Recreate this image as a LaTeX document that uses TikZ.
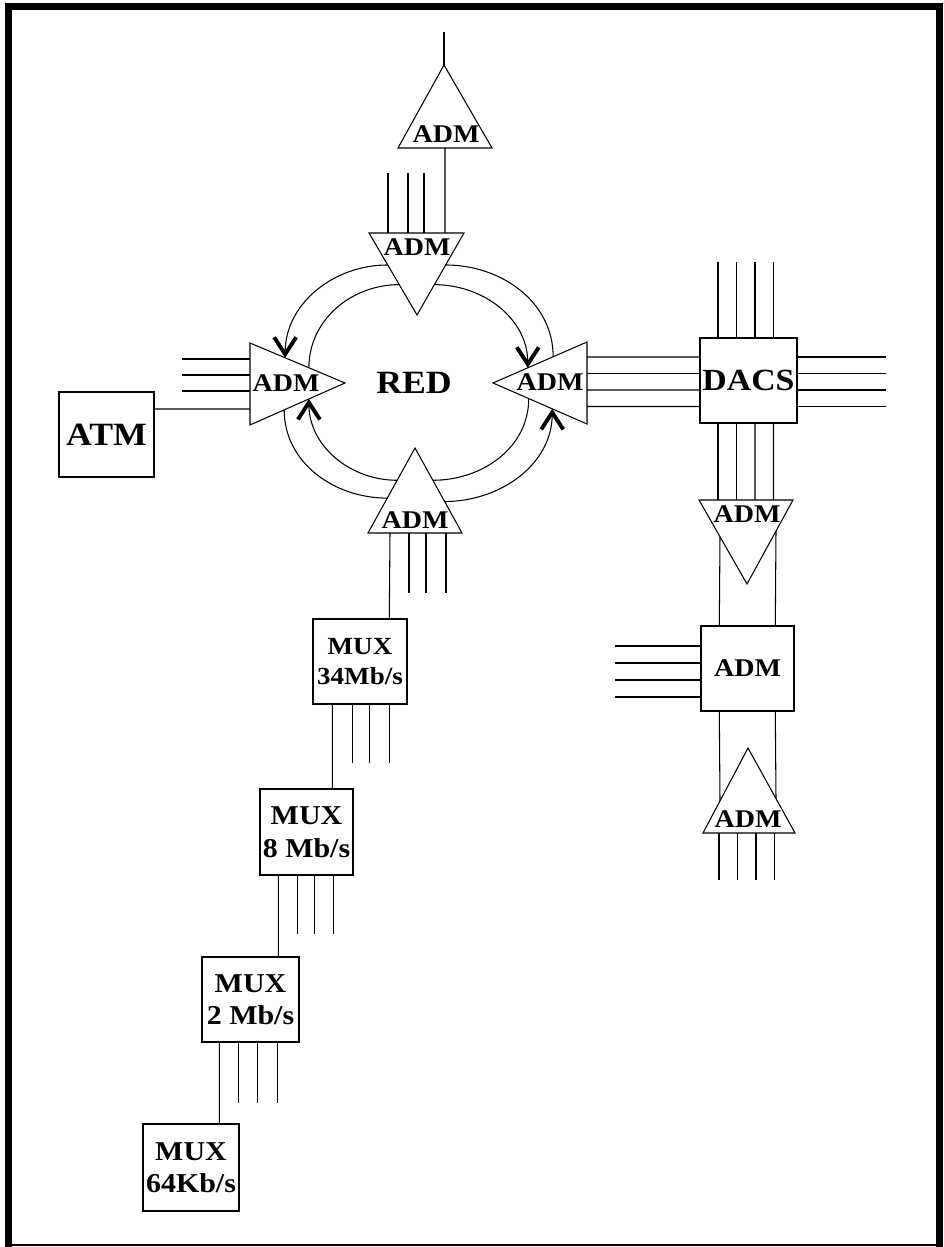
\documentclass[tikz,border=0pt]{standalone}
\usepackage{fontspec}
\setmainfont{Liberation Serif}[FakeStretch=1.1]
\usetikzlibrary{arrows.meta,calc}

\begin{document}
\begin{tikzpicture}[
  wire/.style={line width=0.6pt},
  ringarc/.style={line width=0.6pt},
  flowtip/.style={-{Straight Barb[length=0.34cm,width=0.44cm,line width=2.2pt]}},
  equip/.style={draw, line width=0.8pt, inner sep=0pt, align=center},
  admtext/.style={font=\bfseries\fontsize{14.5}{16}\selectfont, inner sep=0pt},
  bigtext/.style={font=\bfseries\fontsize{18.5}{22}\selectfont, inner sep=0pt},
  muxtext/.style={font=\bfseries\fontsize{15.5}{18.5}\selectfont}
]
\useasboundingbox (0,0) rectangle (18.880,24.940);
\begin{scope}[shift={(0.000,24.940)}]
\draw[line width=3.8pt] (0.170,-24.940) -- (0.170,-0.130) -- (18.790,-0.130) -- (18.790,-24.940);
\draw[line width=1.4pt] (0.170,-24.900) -- (18.790,-24.900);

\node[equip, bigtext, minimum width=1.900cm, minimum height=1.700cm] (atm) at (2.130,-8.690) {ATM};
\node[equip, font=\bfseries\fontsize{17.5}{21}\selectfont, minimum width=1.940cm, minimum height=1.700cm] (dacs) at (14.970,-7.610) {DACS};
\node[equip, admtext, minimum width=1.860cm, minimum height=1.700cm] (admbox) at (14.950,-13.370) {ADM};
\node[equip, muxtext, font=\bfseries\fontsize{14}{17}\selectfont, minimum width=1.880cm, minimum height=1.700cm] (mux34) at (7.200,-13.230) {MUX\\34Mb/s};
\node[equip, muxtext, minimum width=1.860cm, minimum height=1.720cm] (mux8) at (6.130,-16.640) {MUX\\8 Mb/s};
\node[equip, muxtext, minimum width=1.940cm, minimum height=1.700cm] (mux2) at (5.010,-19.990) {MUX\\2 Mb/s};
\node[equip, muxtext, minimum width=1.920cm, minimum height=1.740cm] (mux64) at (3.820,-23.350) {MUX\\64Kb/s};

\draw[wire] (8.880,-1.300) coordinate (admtop-apex) -- (7.960,-2.960) coordinate (admtop-bl) -- (9.840,-2.960) coordinate (admtop-br) -- cycle;
\draw[wire] (7.380,-4.660) coordinate (admnorth-tl) -- (9.280,-4.660) coordinate (admnorth-tr) -- (8.340,-6.300) coordinate (admnorth-apex) -- cycle;
\draw[wire] (5.000,-6.860) coordinate (admwest-bt) -- (6.900,-7.660) coordinate (admwest-apex) -- (5.000,-8.500) coordinate (admwest-bb) -- cycle;
\draw[wire] (11.740,-6.840) coordinate (admeast-bt) -- (9.860,-7.660) coordinate (admeast-apex) -- (11.740,-8.480) coordinate (admeast-bb) -- cycle;
\draw[wire] (8.300,-8.960) coordinate (admsouth-apex) -- (7.360,-10.660) coordinate (admsouth-bl) -- (9.240,-10.660) coordinate (admsouth-br) -- cycle;
\draw[wire] (13.980,-10.000) coordinate (admdrop-tl) -- (15.860,-10.000) coordinate (admdrop-tr) -- (14.940,-11.680) coordinate (admdrop-apex) -- cycle;
\draw[wire] (14.960,-14.960) coordinate (admlow-apex) -- (14.060,-16.660) coordinate (admlow-bl) -- (15.900,-16.660) coordinate (admlow-br) -- cycle;

\node[admtext] (admtop-lbl) at (8.920,-2.680) {ADM};
\node[admtext] (admnorth-lbl) at (8.340,-4.940) {ADM};
\node[admtext] (admwest-lbl) at (5.720,-7.660) {ADM};
\node[admtext] (admeast-lbl) at (11.000,-7.640) {ADM};
\node[admtext] (admsouth-lbl) at (8.300,-10.400) {ADM};
\node[admtext] (admdrop-lbl) at (14.940,-10.280) {ADM};
\node[admtext] (admlow-lbl) at (14.960,-16.380) {ADM};
\node[bigtext] (red) at (8.280,-7.660) {RED};

\draw[wire] (admtop-apex) -- ++(0,0.660);
\draw[wire] ([xshift=0.940cm]admtop-bl) -- ([xshift=1.520cm]admnorth-tl);
\draw[wire] ([xshift=0.380cm]admnorth-tl) -- ++(0,1.200);
\draw[wire] ([xshift=0.780cm]admnorth-tl) -- ++(0,1.200);
\draw[wire] ([xshift=1.100cm]admnorth-tl) -- ++(0,1.200);

\draw[wire] ([yshift=-0.320cm]admwest-bt) -- ++(-1.360,0);
\draw[wire] ([yshift=-0.640cm]admwest-bt) -- ++(-1.360,0);
\draw[wire] ([yshift=-0.960cm]admwest-bt) -- ++(-1.360,0);
\draw[wire] ([yshift=0.510cm]atm.east) -- ([yshift=-1.320cm]admwest-bt);

\draw[wire] ([yshift=-0.300cm]admeast-bt) -- ([yshift=0.470cm]dacs.west);
\draw[wire] ([yshift=-0.630cm]admeast-bt) -- ([yshift=0.140cm]dacs.west);
\draw[wire] ([yshift=-0.960cm]admeast-bt) -- ([yshift=-0.190cm]dacs.west);
\draw[wire] ([yshift=-1.290cm]admeast-bt) -- ([yshift=-0.520cm]dacs.west);
\draw[wire] ([yshift=0.470cm]dacs.east) -- ++(1.760,0);
\draw[wire] ([yshift=0.140cm]dacs.east) -- ++(1.760,0);
\draw[wire] ([yshift=-0.190cm]dacs.east) -- ++(1.760,0);
\draw[wire] ([yshift=-0.520cm]dacs.east) -- ++(1.760,0);
\draw[wire] ([xshift=-0.610cm]dacs.north) -- ++(0,1.500);
\draw[wire] ([xshift=-0.240cm]dacs.north) -- ++(0,1.500);
\draw[wire] ([xshift=0.130cm]dacs.north) -- ++(0,1.500);
\draw[wire] ([xshift=0.500cm]dacs.north) -- ++(0,1.500);
\draw[wire] ([xshift=-0.610cm]dacs.south) -- ([xshift=0.380cm]admdrop-tl);
\draw[wire] ([xshift=-0.240cm]dacs.south) -- ([xshift=0.750cm]admdrop-tl);
\draw[wire] ([xshift=0.130cm]dacs.south) -- ([xshift=1.120cm]admdrop-tl);
\draw[wire] ([xshift=0.500cm]dacs.south) -- ([xshift=1.490cm]admdrop-tl);

\draw[wire] ($(admdrop-tl)!0.4375!(admdrop-apex)$) -- ([xshift=0.380cm]admbox.north west);
\draw[wire] ($(admdrop-tr)!0.3696!(admdrop-apex)$) -- ([xshift=1.500cm]admbox.north west);
\draw[wire] ([yshift=0.450cm]admbox.west) -- ++(-1.700,0);
\draw[wire] ([yshift=0.110cm]admbox.west) -- ++(-1.700,0);
\draw[wire] ([yshift=-0.230cm]admbox.west) -- ++(-1.700,0);
\draw[wire] ([yshift=-0.570cm]admbox.west) -- ++(-1.700,0);
\draw[wire] ([xshift=0.380cm]admbox.south west) -- ($(admlow-bl)!0.3778!(admlow-apex)$);
\draw[wire] ([xshift=1.500cm]admbox.south west) -- ($(admlow-br)!0.4043!(admlow-apex)$);
\draw[wire] ([xshift=0.320cm]admlow-bl) -- ++(0,-0.940);
\draw[wire] ([xshift=0.690cm]admlow-bl) -- ++(0,-0.940);
\draw[wire] ([xshift=1.060cm]admlow-bl) -- ++(0,-0.940);
\draw[wire] ([xshift=1.430cm]admlow-bl) -- ++(0,-0.940);

\draw[wire] ([xshift=0.440cm]admsouth-bl) -- ([xshift=1.540cm]mux34.north west);
\draw[wire] ([xshift=0.820cm]admsouth-bl) -- ++(0,-1.200);
\draw[wire] ([xshift=1.160cm]admsouth-bl) -- ++(0,-1.200);
\draw[wire] ([xshift=1.560cm]admsouth-bl) -- ++(0,-1.200);

\draw[wire] ([xshift=0.400cm]mux34.south west) -- ([xshift=1.460cm]mux8.north west);
\draw[wire] ([xshift=0.800cm]mux34.south west) -- ++(0,-1.160);
\draw[wire] ([xshift=1.140cm]mux34.south west) -- ++(0,-1.160);
\draw[wire] ([xshift=1.540cm]mux34.south west) -- ++(0,-1.160);

\draw[wire] ([xshift=0.380cm]mux8.south west) -- ([xshift=1.540cm]mux2.north west);
\draw[wire] ([xshift=0.760cm]mux8.south west) -- ++(0,-1.160);
\draw[wire] ([xshift=1.100cm]mux8.south west) -- ++(0,-1.160);
\draw[wire] ([xshift=1.480cm]mux8.south west) -- ++(0,-1.160);

\draw[wire] ([xshift=0.360cm]mux2.south west) -- ([xshift=1.540cm]mux64.north west);
\draw[wire] ([xshift=0.740cm]mux2.south west) -- ++(0,-1.200);
\draw[wire] ([xshift=1.120cm]mux2.south west) -- ++(0,-1.200);
\draw[wire] ([xshift=1.520cm]mux2.south west) -- ++(0,-1.200);

\draw[ringarc, flowtip] ($(admnorth-tl)!0.39!(admnorth-apex)$) to[out=180,in=90] ($(admwest-bt)!0.37!(admwest-apex)$);
\draw[ringarc] ($(admnorth-tl)!0.63!(admnorth-apex)$) to[out=180,in=90] ($(admwest-bt)!0.62!(admwest-apex)$);
\draw[ringarc] ($(admnorth-tr)!0.39!(admnorth-apex)$) to[out=0,in=90] ($(admeast-bt)!0.36!(admeast-apex)$);
\draw[ringarc, flowtip] ($(admnorth-tr)!0.63!(admnorth-apex)$) to[out=0,in=90] ($(admeast-bt)!0.63!(admeast-apex)$);
\draw[ringarc] ($(admwest-bb)!0.36!(admwest-apex)$) to[out=-90,in=180] ($(admsouth-bl)!0.41!(admsouth-apex)$);
\draw[ringarc, flowtip] ($(admsouth-bl)!0.62!(admsouth-apex)$) to[out=180,in=-90] ($(admwest-bb)!0.62!(admwest-apex)$);
\draw[ringarc, flowtip] ($(admsouth-br)!0.37!(admsouth-apex)$) to[out=0,in=-90] ($(admeast-bb)!0.37!(admeast-apex)$);
\draw[ringarc] ($(admsouth-br)!0.62!(admsouth-apex)$) to[out=0,in=-90] ($(admeast-bb)!0.62!(admeast-apex)$);
\end{scope}
\end{tikzpicture}
\end{document}
